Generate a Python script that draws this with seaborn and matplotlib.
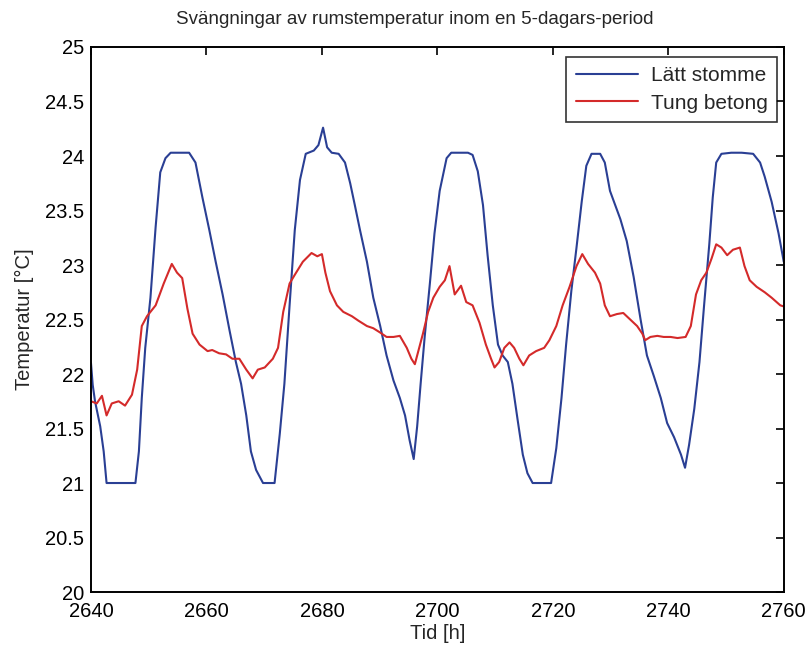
import matplotlib
matplotlib.use("Agg")
import matplotlib.pyplot as plt
import pandas as pd
import seaborn as sns

# (hour, temperature) samples, one list per building type
LATT_STOMME = [
    (2640.0, 22.10), (2640.3, 21.90), (2640.7, 21.75), (2641.6, 21.52), (2642.2, 21.29),
    (2642.7, 21.00), (2647.7, 21.00), (2648.3, 21.29), (2648.8, 21.78), (2649.4, 22.24),
    (2650.3, 22.70), (2651.2, 23.35), (2652.0, 23.85), (2652.9, 23.98), (2653.8, 24.03),
    (2657.0, 24.03), (2658.1, 23.94), (2659.3, 23.62), (2660.5, 23.32), (2661.6, 23.03),
    (2662.8, 22.73), (2664.0, 22.40), (2665.1, 22.11), (2666.0, 21.91), (2666.9, 21.62),
    (2667.7, 21.29), (2668.6, 21.12), (2669.8, 21.00), (2671.8, 21.00), (2672.7, 21.45),
    (2673.5, 21.91), (2674.4, 22.63), (2675.3, 23.32), (2676.2, 23.78), (2677.2, 24.02),
    (2678.6, 24.05), (2679.4, 24.10), (2680.2, 24.26), (2680.9, 24.08), (2681.7, 24.03),
    (2682.9, 24.02), (2684.0, 23.94), (2684.9, 23.75), (2685.7, 23.55), (2686.6, 23.32),
    (2687.8, 23.03), (2688.9, 22.70), (2690.1, 22.44), (2691.2, 22.17), (2692.4, 21.94),
    (2693.5, 21.78), (2694.4, 21.62), (2695.2, 21.39), (2695.9, 21.22), (2696.5, 21.52),
    (2697.1, 21.91), (2697.8, 22.34), (2698.7, 22.83), (2699.5, 23.29), (2700.4, 23.68),
    (2701.6, 23.98), (2702.4, 24.03), (2705.3, 24.03), (2706.1, 24.01), (2707.0, 23.86),
    (2707.9, 23.55), (2708.7, 23.09), (2709.6, 22.63), (2710.5, 22.27), (2711.3, 22.17),
    (2712.2, 22.11), (2713.0, 21.91), (2713.9, 21.58), (2714.8, 21.26), (2715.6, 21.09),
    (2716.5, 21.00), (2719.7, 21.00), (2720.6, 21.32), (2721.5, 21.78), (2722.3, 22.27),
    (2723.2, 22.76), (2724.1, 23.16), (2725.0, 23.58), (2725.8, 23.91), (2726.7, 24.02),
    (2728.2, 24.02), (2729.0, 23.94), (2729.9, 23.68), (2730.8, 23.55), (2731.7, 23.42),
    (2732.8, 23.22), (2734.0, 22.89), (2735.2, 22.50), (2736.3, 22.17), (2737.5, 21.98),
    (2738.7, 21.78), (2739.8, 21.55), (2741.0, 21.42), (2742.2, 21.26), (2742.9, 21.14),
    (2743.6, 21.35), (2744.5, 21.68), (2745.4, 22.11), (2746.2, 22.63), (2747.1, 23.19),
    (2747.7, 23.62), (2748.3, 23.94), (2749.2, 24.02), (2750.9, 24.03), (2752.7, 24.03),
    (2754.7, 24.02), (2755.9, 23.94), (2756.7, 23.81), (2757.9, 23.58), (2759.1, 23.29),
    (2760.0, 23.03),
]

TUNG_BETONG = [
    (2640.0, 21.75), (2641.0, 21.73), (2641.9, 21.80), (2642.7, 21.62), (2643.6, 21.73),
    (2644.8, 21.75), (2645.9, 21.71), (2647.1, 21.81), (2648.0, 22.04), (2648.8, 22.44),
    (2649.7, 22.53), (2651.2, 22.63), (2652.6, 22.83), (2654.0, 23.01), (2654.9, 22.93),
    (2655.8, 22.88), (2656.7, 22.60), (2657.6, 22.37), (2658.8, 22.27), (2660.2, 22.21),
    (2661.0, 22.22), (2662.2, 22.19), (2663.4, 22.18), (2664.5, 22.14), (2665.7, 22.14),
    (2666.9, 22.04), (2668.0, 21.96), (2668.9, 22.04), (2670.1, 22.06), (2671.5, 22.14),
    (2672.4, 22.24), (2673.3, 22.57), (2674.4, 22.83), (2675.3, 22.91), (2676.7, 23.03),
    (2678.2, 23.11), (2679.2, 23.08), (2680.0, 23.10), (2680.6, 22.93), (2681.4, 22.76),
    (2682.6, 22.63), (2683.7, 22.57), (2685.2, 22.53), (2686.3, 22.49), (2687.8, 22.44),
    (2688.9, 22.42), (2690.1, 22.38), (2691.2, 22.34), (2692.4, 22.34), (2693.5, 22.35),
    (2694.7, 22.24), (2695.5, 22.14), (2696.1, 22.09), (2696.7, 22.21), (2697.5, 22.37),
    (2698.4, 22.57), (2699.3, 22.70), (2700.4, 22.80), (2701.3, 22.86), (2702.1, 22.99),
    (2703.0, 22.73), (2704.1, 22.81), (2705.0, 22.66), (2706.1, 22.63), (2707.3, 22.47),
    (2708.4, 22.27), (2709.3, 22.14), (2709.9, 22.06), (2710.7, 22.11), (2711.6, 22.24),
    (2712.5, 22.29), (2713.3, 22.24), (2714.2, 22.14), (2714.9, 22.08), (2715.9, 22.17),
    (2717.1, 22.21), (2718.5, 22.24), (2719.4, 22.31), (2720.6, 22.44), (2721.7, 22.63),
    (2722.9, 22.80), (2724.1, 22.99), (2725.1, 23.10), (2726.1, 23.01), (2727.3, 22.93),
    (2728.2, 22.83), (2729.0, 22.63), (2729.9, 22.53), (2731.1, 22.55), (2732.2, 22.56),
    (2733.4, 22.50), (2734.6, 22.44), (2735.5, 22.37), (2736.0, 22.31), (2736.9, 22.34),
    (2738.1, 22.35), (2739.2, 22.34), (2740.4, 22.34), (2741.6, 22.33), (2743.0, 22.34),
    (2743.9, 22.44), (2744.8, 22.73), (2745.7, 22.86), (2746.6, 22.93), (2747.5, 23.06),
    (2748.3, 23.19), (2749.2, 23.16), (2750.2, 23.09), (2751.2, 23.14), (2752.4, 23.16),
    (2753.2, 22.99), (2754.1, 22.86), (2755.3, 22.80), (2756.7, 22.75), (2757.9, 22.70),
    (2759.4, 22.63), (2760.0, 22.62),
]

SERIES_NAMES = ["Lätt stomme", "Tung betong"]
X_TICKS = [2640, 2660, 2680, 2700, 2720, 2740, 2760]
Y_TICKS = [20, 20.5, 21, 21.5, 22, 22.5, 23, 23.5, 24, 24.5, 25]

TITLE = "Svängningar av rumstemperatur inom en 5-dagars-period"
X_LABEL = "Tid [h]"
Y_LABEL = "Temperatur [°C]"

COLORS = {"Lätt stomme": "#2a3f94", "Tung betong": "#d42a2a"}


def build_df() -> pd.DataFrame:
    frames = []
    for name, pts in zip(SERIES_NAMES, [LATT_STOMME, TUNG_BETONG]):
        df = pd.DataFrame(pts, columns=["tid", "temp"])
        df["serie"] = name
        frames.append(df)
    return pd.concat(frames, ignore_index=True)


sns.set_theme(style="white")
plt.rcParams["font.family"] = ["Liberation Sans", "DejaVu Sans"]

df = build_df()

fig = plt.figure(figsize=(8.08, 6.5), dpi=100)
ax = fig.add_axes([0.1126, 0.0892, 0.8574, 0.8385])

sns.lineplot(data=df, x="tid", y="temp", hue="serie", palette=COLORS,
             sort=False, linewidth=1.5, ax=ax, estimator=None)

ax.set_xlim(2640, 2760)
ax.set_ylim(20, 25)
ax.set_xticks(X_TICKS)
ax.set_xticklabels([str(v) for v in X_TICKS], fontsize=14.5)
ax.set_yticks(Y_TICKS)
ax.set_yticklabels([f"{v:g}" for v in Y_TICKS], fontsize=14.5)
ax.tick_params(direction="in", length=6, width=1.2, top=True, right=True,
               colors="black")
ax.tick_params(axis="x", pad=7)
ax.tick_params(axis="y", pad=5)
for sp in ax.spines.values():
    sp.set_color("black")
    sp.set_linewidth(1.4)

fig.text(415 / 808, 1 - 20 / 650, TITLE, ha="center", va="center", fontsize=13.5)
ax.set_xlabel(X_LABEL, fontsize=14.5, labelpad=2)
ax.set_ylabel(Y_LABEL, fontsize=14.5, labelpad=8)

leg = ax.legend(loc="upper right", fontsize=15, handlelength=3.0,
                frameon=True, fancybox=False, borderpad=0.45,
                labelspacing=0.4, handletextpad=0.6, borderaxespad=0,
                bbox_to_anchor=(0.990, 0.982))
leg.get_frame().set_edgecolor("black")
leg.get_frame().set_linewidth(1.2)

fig.savefig("out.png", dpi=100)
